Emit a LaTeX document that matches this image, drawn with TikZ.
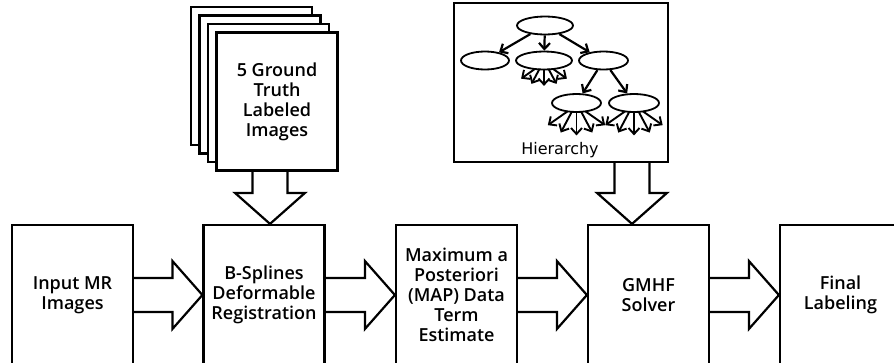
\documentclass[tikz,border=0pt]{standalone}
\usepackage{fontspec}
\IfFontExistsTF{Open Sans Semibold}{\setmainfont{Open Sans Semibold}}{\setmainfont{Open Sans}}
\newfontfamily\treefont{DejaVu Sans}
\usetikzlibrary{positioning,calc,arrows.meta,shapes.geometric}

\tikzset{
  stage/.style={draw,line width=2.2pt,minimum width=121pt,minimum height=140pt,
    inner sep=0pt,align=center,font=\fontsize{18}{20}\selectfont},
  sheet/.style={draw,fill=white,line width=2.2pt,minimum width=121pt,minimum height=138pt,
    inner sep=0pt,align=center,font=\fontsize{18}{20}\selectfont},
  fatarrow/.style={line width=2.2pt,line join=miter},
  state/.style={draw,ellipse,line width=1.8pt,minimum width=56pt,minimum height=18pt,inner sep=0pt},
  branch/.style={line width=2.2pt,-{Straight Barb[length=6pt,width=11pt]}},
  spray/.style={line width=1.9pt,-{Straight Barb[length=6pt,width=11pt]}},
}

% hollow arrow between two stages
\newcommand{\harrow}[2]{%
  \draw[fatarrow] ($(#1.east)+(0,-17)$) -- ($(#2.west)+(-30,-17)$) -- ($(#2.west)+(-30,-34)$)
    -- (#2.west) -- ($(#2.west)+(-30,34)$) -- ($(#2.west)+(-30,17)$) -- ($(#1.east)+(0,17)$);}
% hollow arrow going down into a stage, #3 = shift of the tip
\newcommand{\varrow}[3]{%
  \coordinate (tip) at ($(#2.north)+(#3,0)$);
  \draw[fatarrow] ($(#1.south -| tip)+(-17.5,0)$) -- ($(tip)+(-17.5,-31)$) -- ($(tip)+(-35,-31)$)
    -- (tip) -- ($(tip)+(35,-31)$) -- ($(tip)+(17.5,-31)$) -- ($(#1.south -| tip)+(17.5,0)$);}
% bundle of children below a tree node
\newcommand{\fan}[2]{%
  \foreach \dx/\a in {-9/145,-4.5/118,0/90,4.5/62,9/35}
    \draw[spray] ($(#1.south)+(\dx,-1.5)$) -- ++(\a:#2);}

\begin{document}
\begin{tikzpicture}[x=1pt,y=-1pt]
    \useasboundingbox (0,0) rectangle (894,362);
    \clip (0,0) rectangle (894,362);

    % pipeline
    \node[stage] (input) at (72.5,295) {Input MR\\Images};
    \node[stage] (reg) at (264,295) {B-Splines\\Deformable\\Registration};
    \node[stage] (map) at (456.5,295) {Maximum a\\Posteriori\\(MAP) Data\\Term\\Estimate};
    \node[stage] (gmhf) at (648.5,295) {GMHF\\Solver};
    \node[stage] (final) at (840.5,295) {Final\\Labeling};
    \harrow{input}{reg}
    \harrow{reg}{map}
    \harrow{map}{gmhf}
    \harrow{gmhf}{final}

    % stack of atlas images
    \foreach \i in {0,1,2}
        \node[sheet] (sheet\i) at (251.5+8.5*\i,76+8.5*\i) {};
    \node[sheet] (truth) at (277,101.5) {5 Ground\\Truth\\Labeled\\Images};
    \varrow{truth}{reg}{6}

    % hierarchy panel
    \node[draw,line width=2.2pt,minimum width=214pt,minimum height=159pt,inner sep=0pt] (hier) at (561,82.5) {};
    \node[font=\treefont\fontsize{16}{18}\selectfont] (hiername) at (560,150) {Hierarchy};
    \node[state] (root) at (545,25.5) {};
    \node[state,minimum width=48pt] (lft) at (485,60.5) {};
    \node[state] (mid) at (544,60.5) {};
    \node[state,minimum width=49pt] (rgt) at (603.5,60.5) {};
    \node[state,minimum width=49pt] (rl) at (576.5,103) {};
    \node[state,minimum width=50pt] (rr) at (634,103) {};
    \draw[branch] (root) -- (lft);
    \draw[branch] (root) -- (mid);
    \draw[branch] (root) -- (rgt);
    \draw[branch] (rgt) -- (rl);
    \draw[branch] (rgt) -- (rr);
    \fan{mid}{17}
    \fan{rl}{24}
    \fan{rr}{24}
    \varrow{hier}{gmhf}{-16.5}
\end{tikzpicture}
\end{document}
